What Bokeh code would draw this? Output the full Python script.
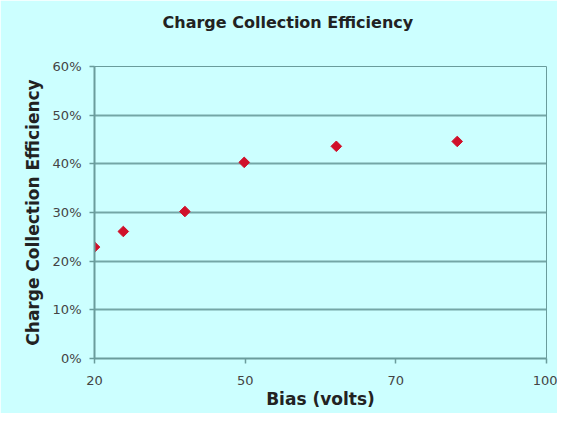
import math
from bokeh.plotting import figure
from bokeh.models import FixedTicker, PrintfTickFormatter, Range1d, Title
from bokeh.embed import file_html
from bokeh.resources import INLINE

# Data
bias = [20, 25.1, 36.0, 46.5, 62.8, 84.2]
efficiency = [22.9, 26.1, 30.2, 40.3, 43.6, 44.6]

x_tick_values = [20, 20 + 80 / 3, 20 + 160 / 3, 100]
x_tick_labels = ["20", "50", "70", "100"]
y_ticks = [0, 10, 20, 30, 40, 50, 60]
title_text = "Charge Collection Efficiency"

BG = "#CCFFFF"
GRID = "#6A9C9C"
FONT = "DejaVu Sans"

W, H = 557, 413
ML, MR, MT, MB = 94, 11, 66, 55

p = figure(width=W, height=H, output_backend="svg", toolbar_location=None,
           x_range=Range1d(20, 100), y_range=Range1d(0, 60),
           title=title_text,
           min_border_left=ML, min_border_right=MR, min_border_top=MT, min_border_bottom=MB)

p.background_fill_color = BG
p.border_fill_color = BG
p.outline_line_color = GRID
p.outline_line_width = 1

p.title.align = "left"
p.title.offset = 68
p.title.standoff = 0
p.title.text_font = FONT
p.title.text_font_size = "16px"
p.title.text_font_style = "bold"
p.title.text_color = "#222222"

# empty spacer between title and plot area
p.add_layout(Title(text=" ", text_font_size="16px", standoff=16), "above")

p.xgrid.visible = False
p.ygrid.grid_line_color = GRID
p.ygrid.grid_line_width = 2
p.ygrid.grid_line_alpha = 0.9

xa = p.xaxis[0]
xa.ticker = FixedTicker(ticks=x_tick_values)
xa.major_label_overrides = {v: l for v, l in zip(x_tick_values, x_tick_labels)}
xa.axis_label = "Bias (volts)"
ya = p.yaxis[0]
ya.ticker = FixedTicker(ticks=y_ticks)
ya.formatter = PrintfTickFormatter(format="%d%%")
ya.axis_label = "Charge Collection Efficiency"

for ax in (xa, ya):
    ax.axis_line_color = GRID
    ax.axis_line_width = 2
    ax.major_tick_line_color = GRID
    ax.major_tick_line_width = 1.5
    ax.major_tick_in = 0
    ax.major_tick_out = 5
    ax.minor_tick_line_color = None
    ax.major_label_text_font = FONT
    ax.major_label_text_font_size = "13px"
    ax.major_label_text_color = "#444444"
    ax.axis_label_text_font = FONT
    ax.axis_label_text_font_style = "bold"
    ax.axis_label_text_color = "#222222"

xa.major_label_standoff = 12
xa.axis_label_text_font_size = "17px"
xa.axis_label_standoff = 1
ya.major_label_standoff = 8
ya.axis_label_text_font_size = "17px"
ya.axis_label_standoff = 7

p.scatter(bias, efficiency, marker="square", angle=math.pi / 4, size=7.5,
          fill_color="#D0102A", line_color="#D0102A")

open("out.html", "w").write(file_html(p, INLINE))
